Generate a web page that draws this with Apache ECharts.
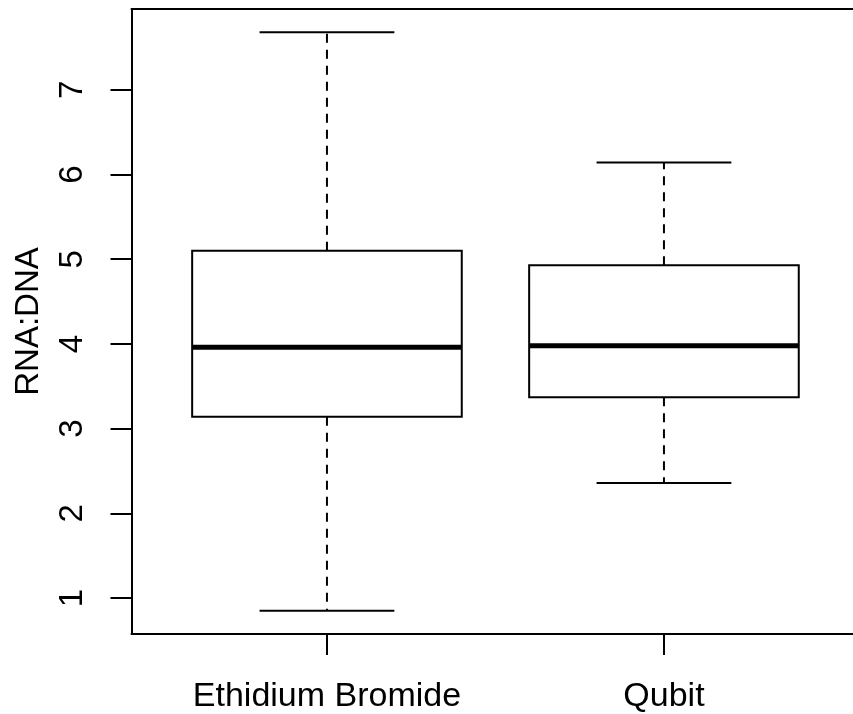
<!DOCTYPE html>
<html>
<head>
<meta charset="utf-8">
<script src="https://cdn.jsdelivr.net/npm/echarts@6.0.0/dist/echarts.min.js"></script>
<style>
html,body{margin:0;padding:0;background:#fff;}
#chart{width:853px;height:714px;}
</style>
</head>
<body>
<div id="chart"></div>
<script>
const categories = ['Ethidium Bromide', 'Qubit'];
const lowerWhisker = [0.85, 2.36];
const lowerQuartile = [3.14, 3.37];
const medians = [3.96, 3.98];
const upperQuartile = [5.10, 4.93];
const upperWhisker = [7.68, 6.14];
const yTicks = [1, 2, 3, 4, 5, 6, 7];
const yLabel = 'RNA:DNA';

const FONT = "'Liberation Sans', Arial, Helvetica, sans-serif";
const FS = 33;

const data = categories.map((c, i) => [i + 1, lowerWhisker[i], lowerQuartile[i], medians[i], upperQuartile[i], upperWhisker[i]]);

const chart = echarts.init(document.getElementById('chart'), null, {renderer: 'canvas'});

function renderItem(params, api) {
  const x = api.value(0);
  const lo = api.value(1), q1 = api.value(2), med = api.value(3), q3 = api.value(4), hi = api.value(5);
  const half = api.size([0.4, 0])[0];
  const sh = half / 2;
  const pLo = api.coord([x, lo]);
  const pQ1 = api.coord([x, q1]);
  const pMed = api.coord([x, med]);
  const pQ3 = api.coord([x, q3]);
  const pHi = api.coord([x, hi]);
  const cx = pMed[0];
  const solid = {stroke: '#000', lineWidth: 2, fill: null};
  const dashed = {stroke: '#000', lineWidth: 2, lineDash: [9, 7], fill: null};
  return {
    type: 'group',
    children: [
      {type: 'line', shape: {x1: cx, y1: pQ3[1], x2: cx, y2: pHi[1]}, style: dashed},
      {type: 'line', shape: {x1: cx, y1: pQ1[1], x2: cx, y2: pLo[1]}, style: dashed},
      {type: 'line', shape: {x1: cx - sh, y1: pHi[1], x2: cx + sh, y2: pHi[1]}, style: solid},
      {type: 'line', shape: {x1: cx - sh, y1: pLo[1], x2: cx + sh, y2: pLo[1]}, style: solid},
      {type: 'rect', shape: {x: cx - half, y: pQ3[1], width: 2 * half, height: pQ1[1] - pQ3[1]},
        style: {stroke: '#000', lineWidth: 2, fill: '#fff'}},
      {type: 'line', shape: {x1: cx - half, y1: pMed[1], x2: cx + half, y2: pMed[1]},
        style: {stroke: '#000', lineWidth: 5}}
    ]
  };
}

const XMIN = 0.42, XMAX = 0.42 + 721.5 / 337;

const option = {
  animation: false,
  backgroundColor: '#fff',
  grid: {
    left: 131.5, top: 9, right: 0, bottom: 80,
    show: false
  },
  xAxis: [{
    type: 'value', min: XMIN, max: XMAX,
    splitLine: {show: false},
    axisLine: {show: true, lineStyle: {color: '#000', width: 2}},
    axisTick: {show: true, customValues: [1, 2], length: 21, lineStyle: {color: '#000', width: 2}},
    axisLabel: {
      customValues: [1, 2], margin: 46,
      formatter: v => categories[Math.round(v) - 1] || '',
      color: '#000', fontSize: 34, fontFamily: FONT
    }
  }, {
    type: 'value', position: 'top', min: XMIN, max: XMAX,
    splitLine: {show: false},
    axisLine: {show: true, lineStyle: {color: '#000', width: 2}},
    axisTick: {show: false},
    axisLabel: {show: false}
  }],
  yAxis: {
    type: 'value', min: 0.577, max: 7.953,
    splitLine: {show: false},
    axisLine: {show: true, lineStyle: {color: '#000', width: 2}},
    axisTick: {show: true, customValues: yTicks, length: 21, lineStyle: {color: '#000', width: 2}},
    axisLabel: {
      customValues: yTicks, rotate: 90, margin: 42,
      color: '#000', fontSize: FS, fontFamily: FONT
    },
    name: yLabel, nameLocation: 'middle', nameRotate: 90, nameGap: 86,
    nameTextStyle: {color: '#000', fontSize: FS, fontFamily: FONT}
  },
  series: [{
    type: 'custom',
    renderItem: renderItem,
    xAxisIndex: 0,
    encode: {x: 0, y: [1, 2, 3, 4, 5]},
    data: data,
    clip: false
  }]
};
chart.setOption(option);
</script>
</body>
</html>
